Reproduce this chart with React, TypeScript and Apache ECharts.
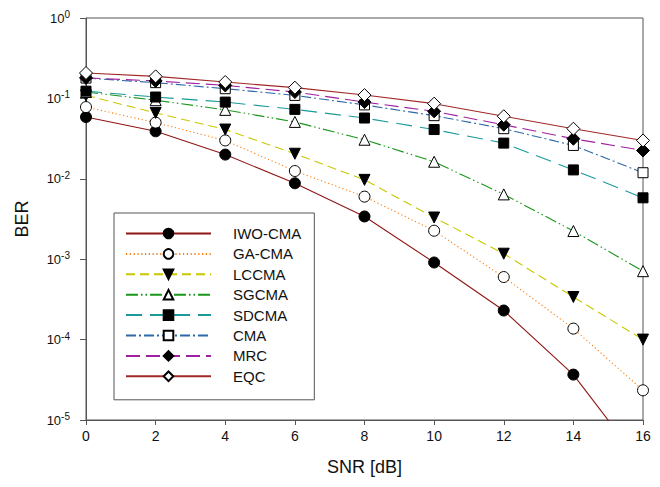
import React, { useEffect, useRef } from "react";
import * as echarts from "echarts";

const snr = [0, 2, 4, 6, 8, 10, 12, 14, 16];
const iwoCma = [0.0586, 0.039, 0.02, 0.0088, 0.0034, 0.00091, 0.00023, 0.0000367, 0.0000027];
const gaCma = [0.078, 0.05, 0.03, 0.0125, 0.006, 0.00226, 0.0006, 0.000137, 0.0000234];
const lcCma = [0.109, 0.066, 0.041, 0.0205, 0.0097, 0.0033, 0.00117, 0.000339, 0.0001];
const sgCma = [0.12, 0.095, 0.072, 0.051, 0.0306, 0.0163, 0.0064, 0.00224, 0.00071];
const sdCma = [0.123, 0.104, 0.09, 0.073, 0.057, 0.041, 0.0278, 0.0129, 0.0058];
const cma = [0.179, 0.157, 0.132, 0.109, 0.083, 0.061, 0.042, 0.026, 0.0119];
const mrc = [0.18, 0.165, 0.145, 0.12, 0.09, 0.069, 0.047, 0.0315, 0.0225];
const eqc = [0.207, 0.188, 0.16, 0.136, 0.11, 0.086, 0.06, 0.042, 0.03];

const names = ["IWO-CMA", "GA-CMA", "LCCMA", "SGCMA", "SDCMA", "CMA", "MRC", "EQC"];
const FONT = "Liberation Sans, Arial, sans-serif";

export default function App() {
  const ref = useRef<HTMLDivElement>(null);
  useEffect(() => {
    if (!ref.current) return;
    const chart = echarts.init(ref.current, null, { renderer: "svg" });
    const mk = (
      name: string,
      data: number[],
      color: string,
      dash: any,
      symbol: string,
      fill: string,
      size: number,
      rotate = 0
    ) => ({
      name,
      type: "line",
      data: snr.map((x, i) => [x, data[i]]),
      symbol,
      symbolSize: size,
      symbolRotate: rotate,
      showAllSymbol: true,
      clip: true,
      lineStyle: { color, width: 1.1, type: dash },
      itemStyle: { color: fill, borderColor: "#000", borderWidth: 1 },
      emphasis: { disabled: true },
    });
    const series = [
      mk(names[0], iwoCma, "#8f1515", "solid", "circle", "#000", 11),
      mk(names[1], gaCma, "#ff7f0e", [1.2, 2.6], "circle", "#fff", 11),
      mk(names[2], lcCma, "#c8c800", [9, 5], "triangle", "#000", 11, 180),
      mk(names[3], sgCma, "#1a961a", [12, 3, 1.5, 3, 1.5, 3], "triangle", "#fff", 11),
      mk(names[4], sdCma, "#1a9a9a", [16, 8], "rect", "#000", 10),
      mk(names[5], cma, "#2d68a8", [10, 3, 2, 3], "rect", "#fff", 10),
      mk(names[6], mrc, "#a020a0", [14, 6], "diamond", "#000", 13),
      mk(names[7], eqc, "#a02828", "solid", "diamond", "#fff", 13),
    ];
    chart.setOption({
      animation: false,
      textStyle: { fontFamily: FONT },
      grid: {
        left: 86,
        right: 17,
        top: 18,
        bottom: 67,
        show: true,
        borderColor: "#555",
        borderWidth: 1,
        backgroundColor: "transparent",
      },
      legend: {
        data: names,
        orient: "vertical",
        left: 114,
        top: 213,
        backgroundColor: "#fff",
        borderColor: "#555",
        borderWidth: 1,
        borderRadius: 0,
        padding: [13, 13, 16, 11],
        itemWidth: 85,
        itemHeight: 12,
        itemGap: 5.4,
        selectedMode: false,
        textStyle: {
          fontFamily: FONT,
          fontSize: 15,
          color: "#111",
          lineHeight: 12,
          padding: [0, 0, 0, 17],
        },
      },
      xAxis: {
        type: "value",
        min: 0,
        max: 16,
        interval: 2,
        name: "SNR [dB]",
        nameLocation: "middle",
        nameGap: 38,
        nameTextStyle: { fontFamily: FONT, fontSize: 18, color: "#111" },
        axisLine: { lineStyle: { color: "#555", width: 1 } },
        axisTick: { inside: false, length: 5, lineStyle: { color: "#555" } },
        axisLabel: { fontFamily: FONT, fontSize: 14, color: "#111", margin: 9 },
        splitLine: { show: false },
      },
      yAxis: {
        type: "log",
        logBase: 10,
        min: 1e-5,
        max: 1,
        name: "BER",
        nameLocation: "middle",
        nameGap: 55,
        nameTextStyle: { fontFamily: FONT, fontSize: 18, color: "#111" },
        axisLine: { lineStyle: { color: "#555", width: 1 } },
        axisTick: { inside: false, length: 6, lineStyle: { color: "#555" } },
        minorTick: { show: false },
        splitLine: { show: false },
        axisLabel: {
          margin: 16,
          formatter: (v: number) => {
            const e = Math.round(Math.log10(v));
            return "{b|10}{s|" + e + "}";
          },
          rich: {
            b: { fontFamily: FONT, fontSize: 13, color: "#111" },
            s: { fontFamily: FONT, fontSize: 10, color: "#111", padding: [0, 0, 7, 0] },
          },
        },
      },
      series,
    });
    return () => chart.dispose();
  }, []);
  return <div ref={ref} style={{ width: 660, height: 487, position: "absolute", left: 0, top: 0 }} />;
}
